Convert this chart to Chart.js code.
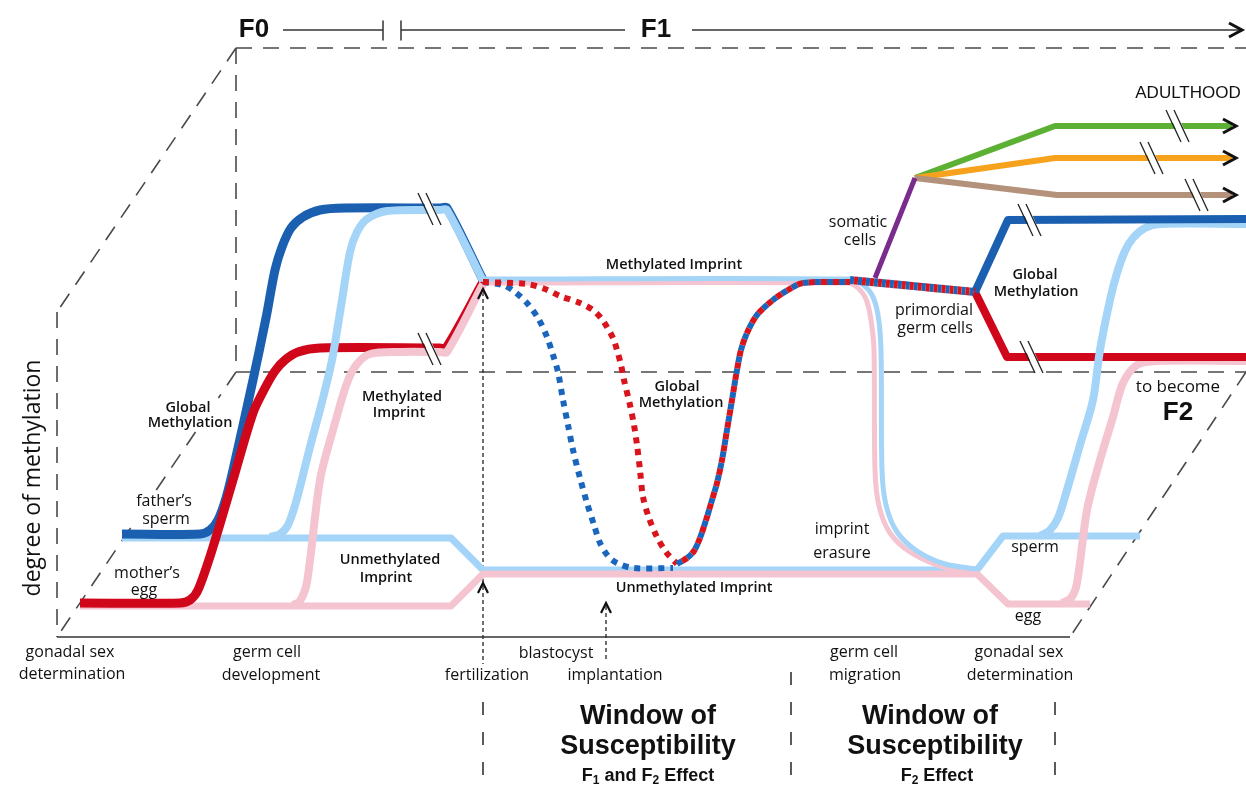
<!DOCTYPE html>
<html>
<head>
<meta charset="utf-8">
<script src="https://cdn.jsdelivr.net/npm/chart.js@4.4.1/dist/chart.umd.min.js"></script>
<style>
  html, body { margin: 0; padding: 0; background: #fff; }
  canvas { display: block; }
</style>
</head>
<body>
<canvas id="chart" width="1246" height="788"></canvas>
<script>
// Methylation reprogramming across F0 -> F1 -> F2, drawn on a plain x/y frame
// (x = developmental time, y = drawing height, both)

const W = 1246, H = 788;

// --- F0 germ cell development (left) ---
const fatherGlobal = [[122,534],[200,534],[210,530],[218,520],[226,498],[233,470],[253,380],[266,318],[275,270],[282,247],[291,228],[303,217],[320,210],[345,208],[440,208],[447,208],[483,280]];
const motherGlobal = [[80,603],[180,603],[190,600],[198,590],[213,547],[233,480],[253,413],[265,388],[275,371],[285,360],[298,352],[320,348],[440,348],[446,348],[483,282]];
const fatherImprintUp = [[270,537],[280,534],[288,525],[296,502],[310,447],[322,402],[332,360],[342,300],[350,252],[357,232],[367,219],[387,211],[440,210],[447,210],[483,281]];
const motherImprintUp = [[293,605],[300,601],[307,582],[320,480],[333,430],[347,383],[357,364],[370,354],[400,352],[440,352],[447,352],[483,284]];
const paternalLow = [[122,538],[445,538],[451,538],[483,570],[970,570],[977,570],[1003,536],[1140,536]];
const maternalLow = [[80,606],[445,606],[451,606],[483,574],[970,574],[977,574],[1008,604],[1090,604]];

// --- F1 embryo (middle) ---
const methImprintBlue = [[483,279],[850,279],[862,284],[872,295],[878,315],[881,350],[882,470],[886,505],[897,532],[917,551],[945,564],[977,569]];
const methImprintPink = [[483,283],[848,283],[858,288],[866,299],[871,320],[874,350],[875,470],[879,506],[890,533],[910,552],[940,566],[977,574]];
const demethFather = [[483,282],[503,285],[515,292],[527,303],[538,318],[547,337],[553,355],[558,372],[563,400],[568,425],[573,450],[580,478],[587,503],[594,525],[600,543],[608,556],[617,563],[633,568],[673,568]];
const demethMother = [[483,282],[527,284],[545,289],[560,296],[580,303],[593,310],[601,318],[607,327],[613,338],[617,350],[621,365],[624,380],[630,405],[634,425],[637,445],[640,470],[643,497],[649,518],[657,537],[666,552],[677,564]];
const remethylation = [[677,564],[687,558],[694,551],[700,538],[707,517],[712,500],[717,483],[722,460],[727,430],[732,400],[737,370],[741,350],[747,333],[757,315],[773,300],[788,290],[803,283],[850,282]];
const primordialGerm = [[850,280],[975,292]];
const somaticCells = [[875,278],[915,178]];

// --- F1 adult / F2 germ line (right) ---
const greenLineage = [[915,178],[1055,126],[1232,126]];
const orangeLineage = [[915,178],[1055,158],[1232,158]];
const brownLineage = [[915,178],[1057,195],[1232,195]];
const f2Global = [[975,292],[1008,220],[1246,219]];
const f2GlobalEgg = [[975,292],[1007,357],[1246,357]];
const f2SpermImprint = [[1040,536],[1050,530],[1058,518],[1067,490],[1080,445],[1093,400],[1100,350],[1110,300],[1117,273],[1125,251],[1133,238],[1145,228],[1160,224],[1246,224]];
const f2EggImprint = [[1062,603],[1071,598],[1077,583],[1087,510],[1100,460],[1113,417],[1123,383],[1137,365],[1157,361],[1246,361]];

// break marks "//" and arrow heads
const breakMarks = [[430,209],[430,349],[1178,126],[1152,158],[1197,195],[1030,220],[1032,357]];
const arrowTips = [[1236,126,'r'],[1236,158,'r'],[1236,195,'r'],[1242,30,'r'],[483,289,'u'],[483,583,'u'],[606,603,'u']];

// frame of the 3D-ish box
const frameDashed = [
  [[236,48],[1246,48]],
  [[236,48],[236,372]],
  [[236,372],[1246,372]],
  [[236,48],[57,312]],
  [[57,312],[57,637]],
  [[236,372],[218.4,398]],
  [[195.5,432],[154.9,492]],
  [[130.6,528],[57,637]],
  [[1246,372],[1070,637]]
];
const frameSolid = [[[57,637],[1070,637]]];
const generationLine = [
  [[283,30],[383,30]], [[383,21],[383,40]], [[401,21],[401,40]], [[401,30],[625,30]], [[692,30],[1240,30]]
];
const eventMarkers = [[[483,292],[483,664]], [[606,606],[606,662]]];
const windowDividers = [[[483,702],[483,788]], [[791,672],[791,788]], [[1055,702],[1055,788]]];

const FS = '"Open Sans", "Noto Sans", sans-serif';
const FA = '"Liberation Sans", Arial, sans-serif';
const labels = [
  { t: 'F0', x: 254, y: 30, f: 'bold 26px ' + FA },
  { t: 'F1', x: 656, y: 30, f: 'bold 26px ' + FA },
  { t: 'degree of methylation', x: 33, y: 478, f: '23px ' + FS, rot: -Math.PI / 2 },
  { t: 'Global', x: 188, y: 408, f: '600 14.5px ' + FS },
  { t: 'Methylation', x: 190, y: 423, f: '600 14.5px ' + FS },
  { t: "father\u2019s", x: 164, y: 501, f: '16px ' + FS },
  { t: 'sperm', x: 166, y: 519, f: '16px ' + FS },
  { t: "mother\u2019s", x: 147, y: 573, f: '16px ' + FS },
  { t: 'egg', x: 144, y: 590, f: '16px ' + FS },
  { t: 'Methylated', x: 402, y: 397, f: '600 14.5px ' + FS },
  { t: 'Imprint', x: 399, y: 413, f: '600 14.5px ' + FS },
  { t: 'Unmethylated', x: 390, y: 560, f: '600 14.5px ' + FS },
  { t: 'Imprint', x: 386, y: 578, f: '600 14.5px ' + FS },
  { t: 'Methylated Imprint', x: 674, y: 265, f: '600 14.5px ' + FS },
  { t: 'Global', x: 677, y: 387, f: '600 14.5px ' + FS },
  { t: 'Methylation', x: 681, y: 403, f: '600 14.5px ' + FS },
  { t: 'Unmethylated Imprint', x: 694, y: 588, f: '600 14.5px ' + FS },
  { t: 'imprint', x: 842, y: 529, f: '16px ' + FS },
  { t: 'erasure', x: 842, y: 553, f: '16px ' + FS },
  { t: 'somatic', x: 858, y: 222, f: '16px ' + FS },
  { t: 'cells', x: 860, y: 240, f: '16px ' + FS },
  { t: 'primordial', x: 934, y: 310, f: '16px ' + FS },
  { t: 'germ cells', x: 935, y: 328, f: '16px ' + FS },
  { t: 'Global', x: 1035, y: 275, f: '600 14.5px ' + FS },
  { t: 'Methylation', x: 1036, y: 292, f: '600 14.5px ' + FS },
  { t: 'ADULTHOOD', x: 1188, y: 93, f: '17px ' + FA },
  { t: 'to become', x: 1178, y: 387, f: '17px ' + FS },
  { t: 'F2', x: 1178, y: 413, f: 'bold 26px ' + FA },
  { t: 'sperm', x: 1035, y: 547, f: '16px ' + FS },
  { t: 'egg', x: 1028, y: 616, f: '16px ' + FS },
  { t: 'gonadal sex', x: 70, y: 652, f: '16px ' + FS },
  { t: 'determination', x: 72, y: 674, f: '16px ' + FS },
  { t: 'germ cell', x: 267, y: 652, f: '16px ' + FS },
  { t: 'development', x: 271, y: 675, f: '16px ' + FS },
  { t: 'blastocyst', x: 556, y: 653, f: '16px ' + FS },
  { t: 'fertilization', x: 487, y: 675, f: '16px ' + FS },
  { t: 'implantation', x: 615, y: 675, f: '16px ' + FS },
  { t: 'germ cell', x: 864, y: 652, f: '16px ' + FS },
  { t: 'migration', x: 865, y: 675, f: '16px ' + FS },
  { t: 'gonadal sex', x: 1019, y: 652, f: '16px ' + FS },
  { t: 'determination', x: 1020, y: 675, f: '16px ' + FS },
  { t: 'Window of', x: 648, y: 717, f: 'bold 27px ' + FA },
  { t: 'Susceptibility', x: 648, y: 747, f: 'bold 27px ' + FA },
  { t: 'Window of', x: 930, y: 717, f: 'bold 27px ' + FA },
  { t: 'Susceptibility', x: 935, y: 747, f: 'bold 27px ' + FA }
];
const subLabels = [
  { parts: [['F', 0], ['1', 1], [' and F', 0], ['2', 1], [' Effect', 0]], x: 648, y: 776 },
  { parts: [['F', 0], ['2', 1], [' Effect', 0]], x: 937, y: 776 }
];

const C = {
  darkBlue: '#1b5fb0', lightBlue: '#a4d4f7', red: '#d0061a', pink: '#f4c4d1',
  dotBlue: '#1a66bd', dotRed: '#d8141c', green: '#5cb134', orange: '#f7a21c',
  brown: '#b3917a', purple: '#7a2b8e', frame: '#4a4a4a'
};

function line(points, color, width, extra) {
  return Object.assign({
    data: points.map(p => ({ x: p[0], y: p[1] })),
    showLine: true, borderColor: color, borderWidth: width,
    pointRadius: 0, pointHoverRadius: 0, tension: 0.3, fill: false, clip: false,
    borderJoinStyle: 'round', borderCapStyle: 'butt'
  }, extra || {});
}

// bottom to top
const layers = [];
frameDashed.forEach(s => layers.push(line(s, C.frame, 1.6, { borderDash: [16, 11], tension: 0 })));
frameSolid.forEach(s => layers.push(line(s, '#333', 1.6, { tension: 0 })));
generationLine.forEach(s => layers.push(line(s, '#333', 1.5, { tension: 0 })));
eventMarkers.forEach(s => layers.push(line(s, '#333', 1.4, { borderDash: [4, 3], tension: 0 })));
windowDividers.forEach(s => layers.push(line(s, '#333', 1.6, { borderDash: [13, 17], tension: 0 })));

layers.push(line(paternalLow, C.lightBlue, 7, { tension: 0 }));
layers.push(line(maternalLow, C.pink, 7, { tension: 0 }));
layers.push(line(fatherGlobal, C.darkBlue, 9));
layers.push(line(motherGlobal, C.red, 9));
layers.push(line(fatherImprintUp, C.lightBlue, 8));
layers.push(line(motherImprintUp, C.pink, 8));
layers.push(line(methImprintPink, C.pink, 5));
layers.push(line(methImprintBlue, C.lightBlue, 5));
layers.push(line(f2EggImprint, C.pink, 8));
layers.push(line(f2GlobalEgg, C.red, 8, { tension: 0 }));
layers.push(line(f2SpermImprint, C.lightBlue, 8));
layers.push(line(f2Global, C.darkBlue, 8, { tension: 0 }));
layers.push(line(demethFather, C.dotBlue, 6, { borderDash: [6, 6] }));
layers.push(line(demethMother, C.dotRed, 6, { borderDash: [6, 6] }));
layers.push(line(remethylation, C.dotBlue, 6, { borderDash: [6, 6] }));
layers.push(line(remethylation, C.dotRed, 6, { borderDash: [6, 6], borderDashOffset: 6 }));
layers.push(line(greenLineage, C.green, 6, { tension: 0 }));
layers.push(line(orangeLineage, C.orange, 6, { tension: 0 }));
layers.push(line(brownLineage, C.brown, 6, { tension: 0 }));
layers.push(line(somaticCells, C.purple, 5, { tension: 0 }));
layers.push(line(primordialGerm, C.dotBlue, 8, { borderDash: [4, 4], tension: 0 }));
layers.push(line(primordialGerm, C.dotRed, 8, { borderDash: [4, 4], borderDashOffset: 4, tension: 0 }));
layers.forEach((d, i) => { d.order = -i; });

const overlay = {
  id: 'overlay',
  afterDatasetsDraw(chart) {
    const ctx = chart.ctx;
    const sx = v => chart.scales.x.getPixelForValue(v);
    const sy = v => chart.scales.y.getPixelForValue(v);
    ctx.save();

    // "//" breaks
    breakMarks.forEach(([bx, by]) => {
      const cx = sx(bx), cy = sy(by);
      ctx.fillStyle = '#fff';
      ctx.beginPath();
      ctx.moveTo(cx - 7, cy - 8); ctx.lineTo(cx + 1, cy - 8);
      ctx.lineTo(cx + 8, cy + 8); ctx.lineTo(cx, cy + 8);
      ctx.closePath(); ctx.fill();
      ctx.strokeStyle = '#222'; ctx.lineWidth = 1.3;
      [-4, 4].forEach(o => {
        ctx.beginPath();
        ctx.moveTo(cx + o - 8, cy - 16);
        ctx.lineTo(cx + o + 7, cy + 16);
        ctx.stroke();
      });
    });

    // chevron arrow heads
    ctx.strokeStyle = '#111'; ctx.lineJoin = 'miter';
    arrowTips.forEach(([ax, ay, dir]) => {
      const px = sx(ax), py = sy(ay);
      ctx.beginPath();
      if (dir === 'r') {
        ctx.lineWidth = 3;
        ctx.moveTo(px - 13, py - 7); ctx.lineTo(px, py); ctx.lineTo(px - 13, py + 7);
      } else {
        ctx.lineWidth = 2.2;
        ctx.moveTo(px - 5, py + 10); ctx.lineTo(px, py); ctx.lineTo(px + 5, py + 10);
      }
      ctx.stroke();
    });

    // text
    ctx.fillStyle = '#111';
    ctx.textAlign = 'center';
    ctx.textBaseline = 'middle';
    labels.forEach(l => {
      ctx.save();
      ctx.font = l.f;
      ctx.translate(sx(l.x), sy(l.y));
      if (l.rot) ctx.rotate(l.rot);
      ctx.fillText(l.t, 0, 0);
      ctx.restore();
    });

    // labels with subscripts
    const big = 'bold 18px ' + FA, small = 'bold 12px ' + FA;
    ctx.textAlign = 'left';
    subLabels.forEach(s => {
      let total = 0;
      s.parts.forEach(([t, sub]) => { ctx.font = sub ? small : big; total += ctx.measureText(t).width; });
      let x = sx(s.x) - total / 2;
      const y = sy(s.y);
      s.parts.forEach(([t, sub]) => {
        ctx.font = sub ? small : big;
        ctx.fillText(t, x, sub ? y + 5 : y);
        x += ctx.measureText(t).width;
      });
    });
    ctx.restore();
  }
};

new Chart(document.getElementById('chart'), {
  type: 'scatter',
  data: { datasets: layers },
  options: {
    responsive: false,
    animation: false,
    devicePixelRatio: 1,
    events: [],
    layout: { padding: 0 },
    plugins: { legend: { display: false }, tooltip: { enabled: false } },
    scales: {
      x: { type: 'linear', min: 0, max: W, display: false },
      y: { type: 'linear', min: 0, max: H, reverse: true, display: false }
    }
  },
  plugins: [overlay]
});
</script>
</body>
</html>
